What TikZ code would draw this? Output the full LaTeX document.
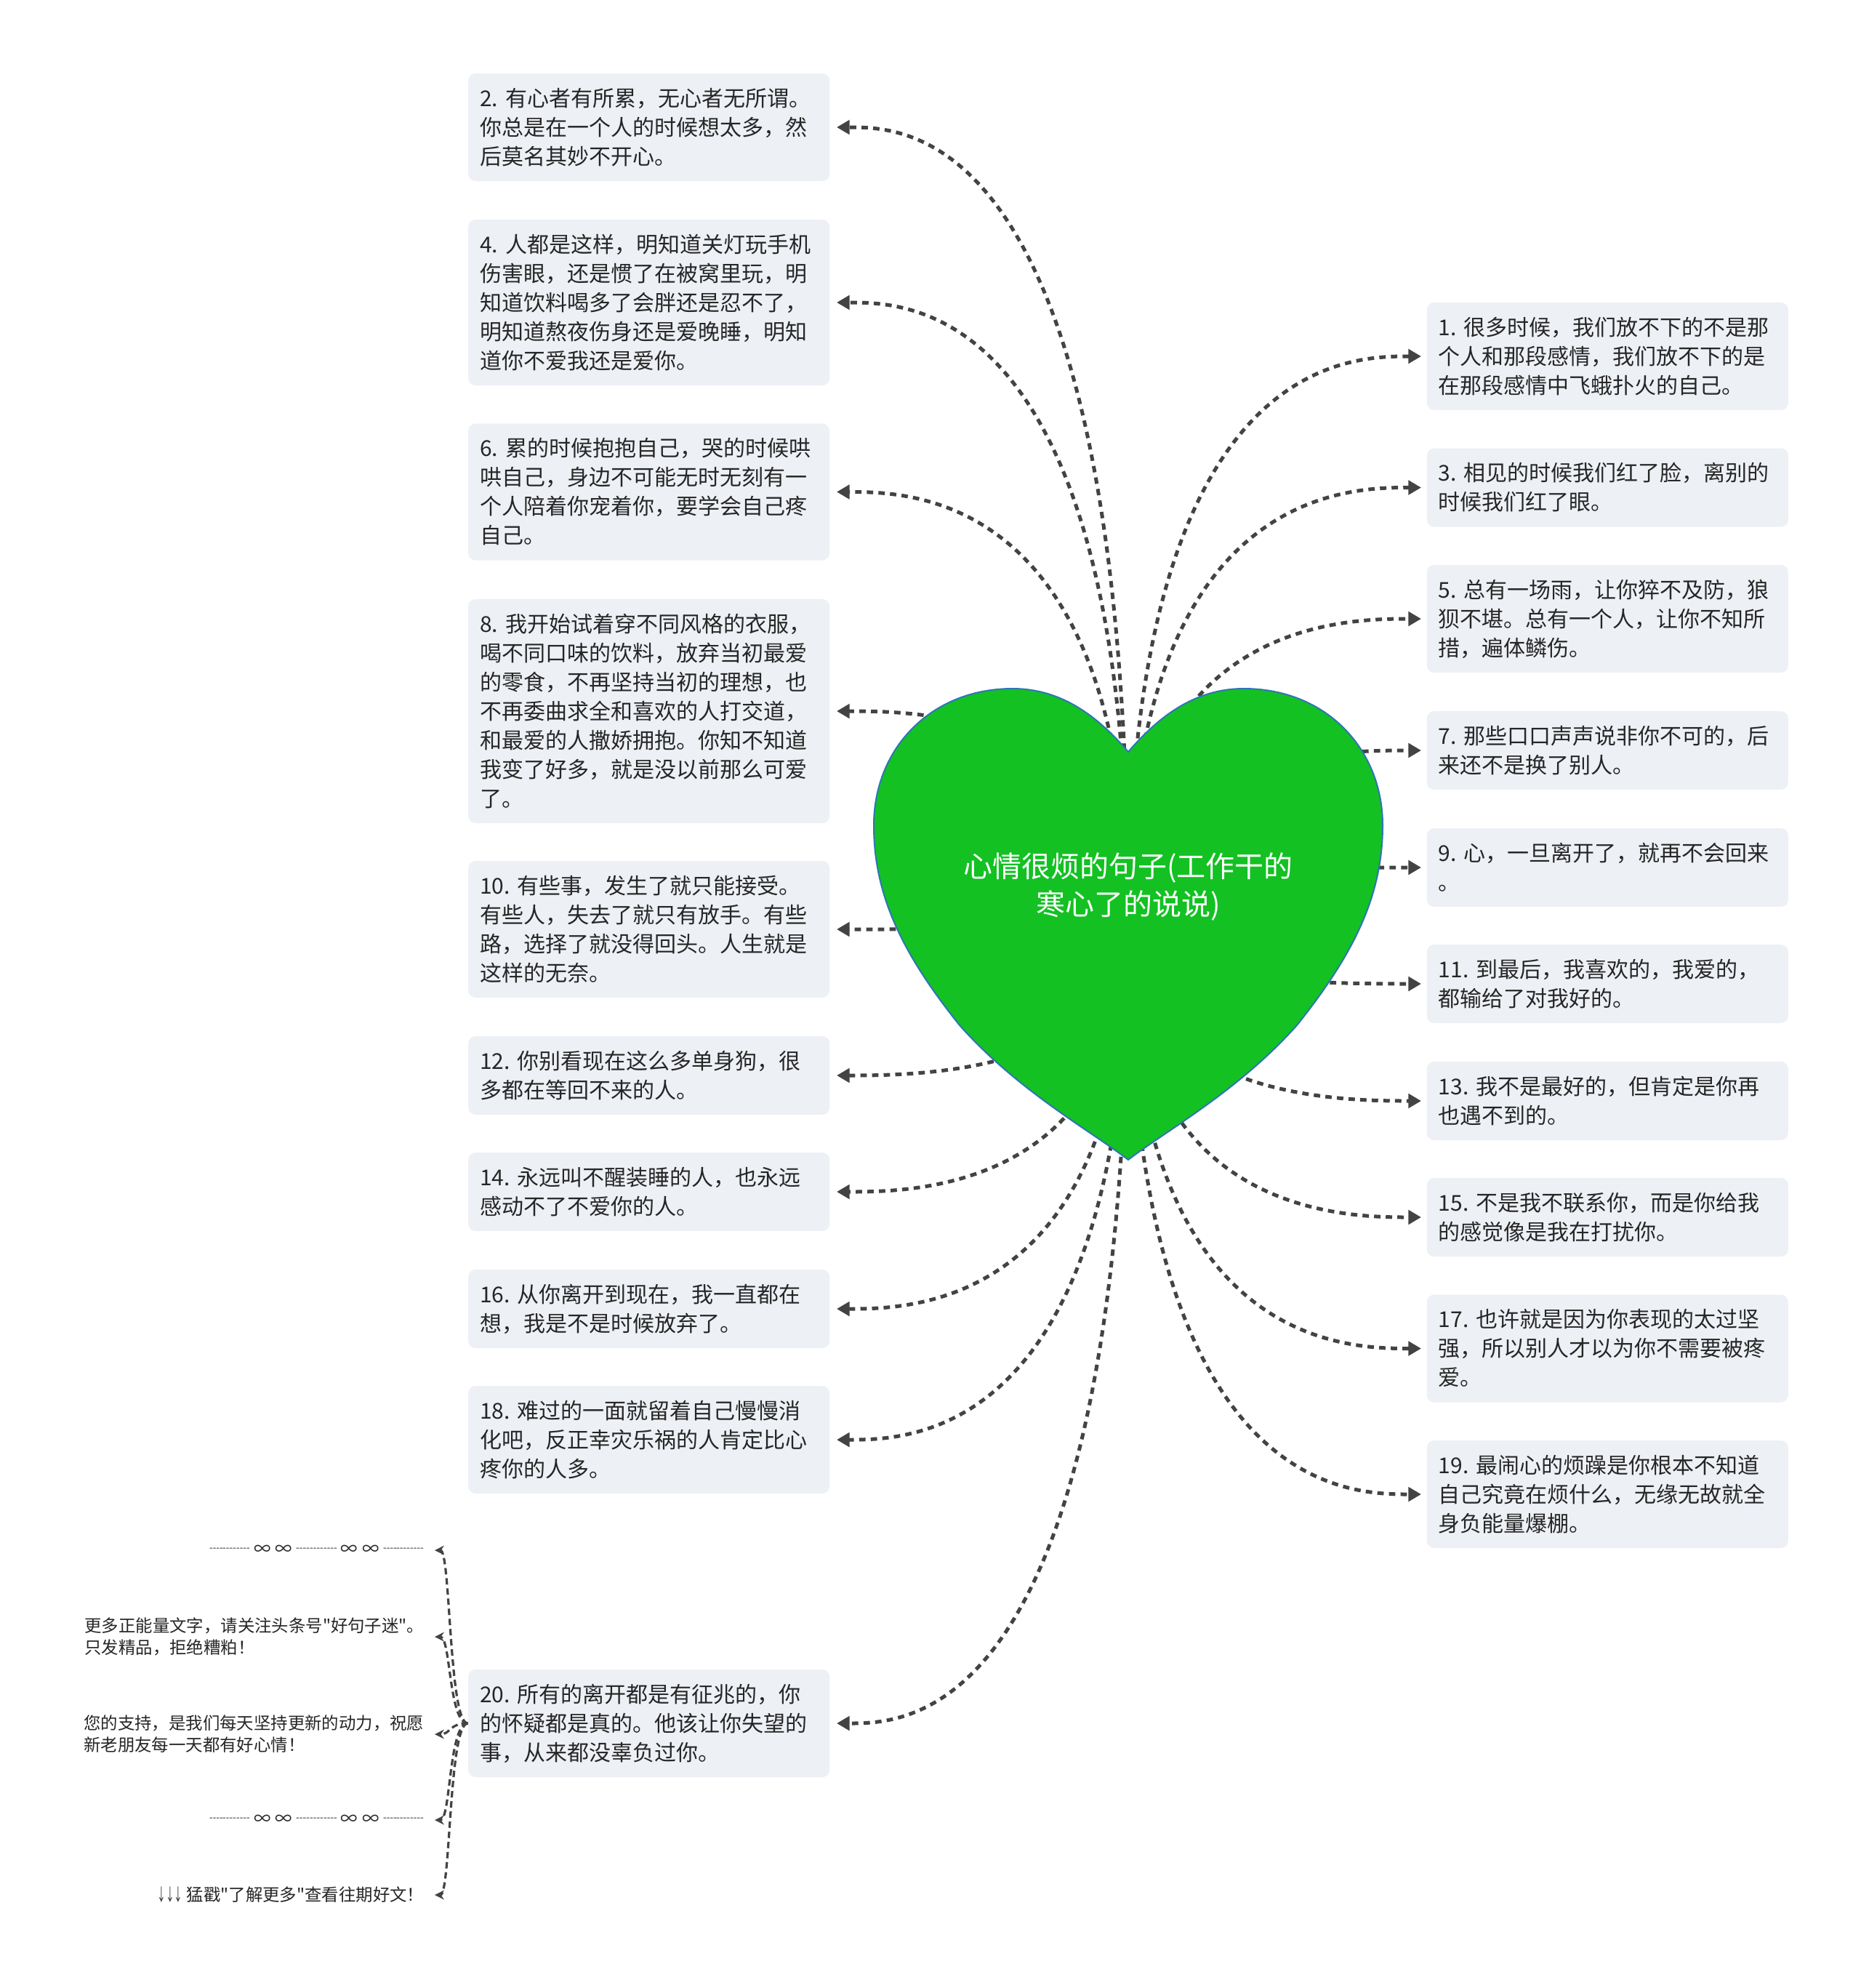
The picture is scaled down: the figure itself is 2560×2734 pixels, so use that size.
\documentclass[tikz,border=0pt]{standalone}
\usepackage{fontspec}
\newfontfamily\cjk{Noto Sans CJK SC}
\usetikzlibrary{arrows.meta,calc}
\definecolor{boxfill}{RGB}{237,240,245}
\definecolor{textcol}{RGB}{38,38,38}
\definecolor{linecol}{RGB}{66,68,66}
\definecolor{heartfill}{RGB}{19,193,35}
\definecolor{heartline}{RGB}{46,117,182}
\newcommand\bt[1]{\rule{0pt}{7.75pt}#1\rule[-2.25pt]{0pt}{2.25pt}}
\newcommand\seprun{\scalebox{0.8}[1]{┈┈┈}}
\newcommand\infpair{∞\hspace{1.5pt}∞}
\newcommand\mylc[1]{\draw[lconn] (root.center) .. controls (root.center |- #1.east) and ($(#1.east)+(109,0)$) .. (#1.east);}
\newcommand\myrc[1]{\draw[rconn] (root.center) .. controls (root.center |- #1.west) and ($(#1.west)+(-107,0)$) .. (#1.west);}
\newcommand\mybc[1]{\draw[sconn] (b20.west) .. controls ($(b20.west)+(-26,0)$) and ($(#1.east)+(22,0)$) .. (#1.east);}
\begin{document}
\frenchspacing
\begin{tikzpicture}[x=0.25pt,y=-0.25pt,
 box/.style={fill=boxfill, rounded corners=2.5pt, text width=116.25pt, inner xsep=4pt, inner ysep=3.5pt, align=left, text=textcol, font=\cjk\frenchspacing\fontsize{7.5pt}{10pt}\selectfont},
 lbox/.style={box, anchor=east},
 rbox/.style={box, anchor=west},
 conn/.style={draw=linecol, line width=1.25pt, dash pattern=on 2.2pt off 1.8pt, -{Triangle[length=4.4pt,width=4.8pt]}},
 lconn/.style={conn, shorten >=2.25pt},
 rconn/.style={conn, shorten >=1.75pt},
 small/.style={anchor=east, align=left, text=textcol, inner xsep=3.5pt, inner ysep=1pt, font=\cjk\frenchspacing\fontsize{5.85pt}{7.5pt}\selectfont},
 sconn/.style={draw=linecol, line width=0.8pt, dash pattern=on 2.2pt off 1.3pt, -{Stealth[length=3.2pt,width=3.2pt]}}
]
\fill[white] (0,0) rectangle (2560,2734);
\path[use as bounding box] (0,0) rectangle (2560,2734);

\node[minimum width=176pt, minimum height=162pt, inner sep=0pt] (root) at (1552,1271) {};

% left boxes
\node[lbox] (b2) at (1142,175) {\bt{2. 有心者有所累，无心者无所谓。\\你总是在一个人的时候想太多，然\\后莫名其妙不开心。}};
\node[lbox] (b4) at (1142,416) {\bt{4. 人都是这样，明知道关灯玩手机\\伤害眼，还是惯了在被窝里玩，明\\知道饮料喝多了会胖还是忍不了，\\明知道熬夜伤身还是爱晚睡，明知\\道你不爱我还是爱你。}};
\node[lbox] (b6) at (1142,676.5) {\bt{6. 累的时候抱抱自己，哭的时候哄\\哄自己，身边不可能无时无刻有一\\个人陪着你宠着你，要学会自己疼\\自己。}};
\node[lbox] (b8) at (1142,978) {\bt{8. 我开始试着穿不同风格的衣服，\\喝不同口味的饮料，放弃当初最爱\\的零食，不再坚持当初的理想，也\\不再委曲求全和喜欢的人打交道，\\和最爱的人撒娇拥抱。你知不知道\\我变了好多，就是没以前那么可爱\\了。}};
\node[lbox] (b10) at (1142,1278) {\bt{10. 有些事，发生了就只能接受。\\有些人，失去了就只有放手。有些\\路，选择了就没得回头。人生就是\\这样的无奈。}};
\node[lbox] (b12) at (1142,1479) {\bt{12. 你别看现在这么多单身狗，很\\多都在等回不来的人。}};
\node[lbox] (b14) at (1142,1639) {\bt{14. 永远叫不醒装睡的人，也永远\\感动不了不爱你的人。}};
\node[lbox] (b16) at (1142,1800) {\bt{16. 从你离开到现在，我一直都在\\想，我是不是时候放弃了。}};
\node[lbox] (b18) at (1142,1980) {\bt{18. 难过的一面就留着自己慢慢消\\化吧，反正幸灾乐祸的人肯定比心\\疼你的人多。}};
\node[lbox] (b20) at (1142,2370) {\bt{20. 所有的离开都是有征兆的，你\\的怀疑都是真的。他该让你失望的\\事，从来都没辜负过你。}};

% right boxes
\node[rbox] (b1) at (1962,490) {\bt{1. 很多时候，我们放不下的不是那\\个人和那段感情，我们放不下的是\\在那段感情中飞蛾扑火的自己。}};
\node[rbox] (b3) at (1962,670.5) {\bt{3. 相见的时候我们红了脸，离别的\\时候我们红了眼。}};
\node[rbox] (b5) at (1962,851) {\bt{5. 总有一场雨，让你猝不及防，狼\\狈不堪。总有一个人，让你不知所\\措，遍体鳞伤。}};
\node[rbox] (b7) at (1962,1032) {\bt{7. 那些口口声声说非你不可的，后\\来还不是换了别人。}};
\node[rbox] (b9) at (1962,1193) {\bt{9. 心，一旦离开了，就再不会回来\\。}};
\node[rbox] (b11) at (1962,1353) {\bt{11. 到最后，我喜欢的，我爱的，\\都输给了对我好的。}};
\node[rbox] (b13) at (1962,1514) {\bt{13. 我不是最好的，但肯定是你再\\也遇不到的。}};
\node[rbox] (b15) at (1962,1674) {\bt{15. 不是我不联系你，而是你给我\\的感觉像是我在打扰你。}};
\node[rbox] (b17) at (1962,1854.5) {\bt{17. 也许就是因为你表现的太过坚\\强，所以别人才以为你不需要被疼\\爱。}};
\node[rbox] (b19) at (1962,2055) {\bt{19. 最闹心的烦躁是你根本不知道\\自己究竟在烦什么，无缘无故就全\\身负能量爆棚。}};

% connectors from the heart
\mylc{b2}\mylc{b4}\mylc{b6}\mylc{b8}\mylc{b10}\mylc{b12}\mylc{b14}\mylc{b16}\mylc{b18}\mylc{b20}
\myrc{b1}\myrc{b3}\myrc{b5}\myrc{b7}\myrc{b9}\myrc{b11}\myrc{b13}\myrc{b15}\myrc{b17}\myrc{b19}

% heart
\path[fill=heartfill, draw=heartline, line width=0.5pt]
 (1552,1034) .. controls (1510,985) and (1460,947) .. (1393,947)
 .. controls (1280,947) and (1202,1030) .. (1202,1135)
 .. controls (1202,1230) and (1240,1310) .. (1320,1410)
 .. controls (1400,1500) and (1500,1555) .. (1552,1595)
 .. controls (1604,1555) and (1704,1500) .. (1784,1410)
 .. controls (1864,1310) and (1902,1230) .. (1902,1135)
 .. controls (1902,1030) and (1824,947) .. (1711,947)
 .. controls (1644,947) and (1594,985) .. (1552,1034) -- cycle;
\node[align=center, text=white, font=\cjk\fontsize{10pt}{13pt}\selectfont] (roottext) at (1552,1220) {心情很烦的句子(工作干的\\寒心了的说说)};

% children of 20
\node[small] (s1) at (598,2132) {\seprun{} \infpair{} \seprun{} \infpair{} \seprun};
\node[small] (s2) at (598,2251) {更多正能量文字，请关注头条号"好句子迷"。\\只发精品，拒绝糟粕！};
\node[small] (s3) at (598,2385) {您的支持，是我们每天坚持更新的动力，祝愿\\新老朋友每一天都有好心情！};
\node[small] (s4) at (598,2503) {\seprun{} \infpair{} \seprun{} \infpair{} \seprun};
\node[small] (s5) at (598,2606) {\scalebox{0.5}[1]{↓↓↓} 猛戳"了解更多"查看往期好文！};
\mybc{s1}\mybc{s2}\mybc{s3}\mybc{s4}\mybc{s5}
\end{tikzpicture}
\end{document}
